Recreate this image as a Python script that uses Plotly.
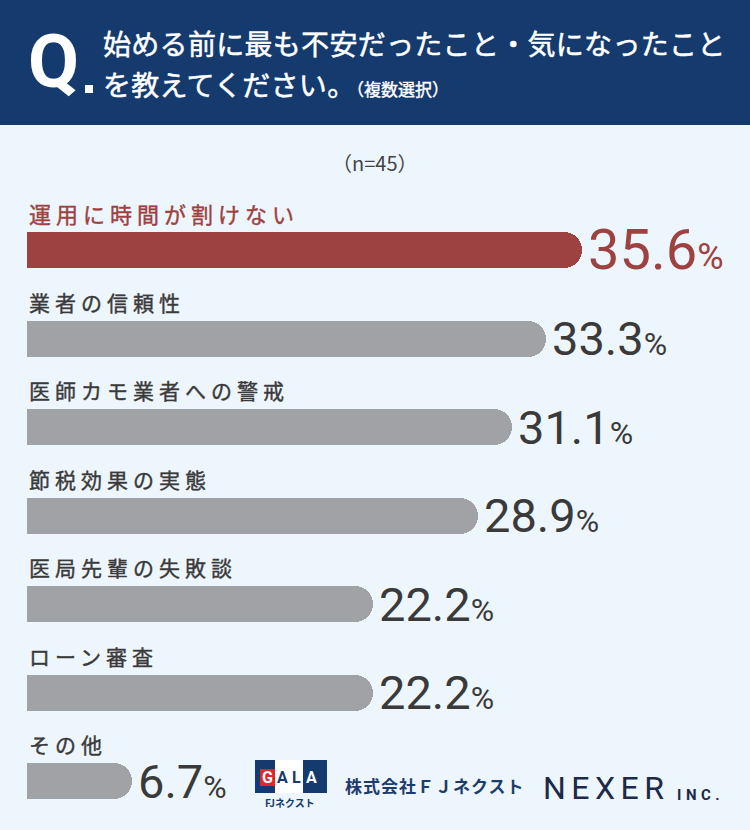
import plotly.graph_objects as go

# ---- data ----
categories = ["運用に時間が割けない", "業者の信頼性", "医師カモ業者への警戒", "節税効果の実態",
              "医局先輩の失敗談", "ローン審査", "その他"]
values = [35.6, 33.3, 31.1, 28.9, 22.2, 22.2, 6.7]
highlight = 0

title_line1 = "始める前に最も不安だったこと・気になったこと"
title_line2 = "を教えてください。"
title_note = "（複数選択）"
sample_note = "（n=45）"

# ---- style ----
W, H = 750, 830
BG = "#eef6fd"
NAVY = "#143a6e"
RED = "#9d4141"
GRAY = "#a1a2a6"
TXT = "#3a3a3a"
JP = "Noto Sans CJK JP"
NUM = "Roboto"

PX_PER_UNIT = 15.6
X0 = 27
ROW = 88.5
FIRST = 250
BAR_H = 36


def px(x):
    return x / W


def py(y):
    return 1 - y / H


positions = list(range(len(categories)))
colors = [RED if i == highlight else GRAY for i in positions]

fig = go.Figure()
fig.add_trace(go.Bar(
    x=values, y=positions, orientation="h",
    marker=dict(color=colors, cornerradius=18, line=dict(width=0)),
    width=BAR_H / ROW, hoverinfo="skip", showlegend=False,
))

annotations = []
for i, (c, v) in enumerate(zip(categories, values)):
    hi = i == highlight
    col = RED if hi else TXT
    size = 22 if hi else 21
    sp = 5
    annotations.append(dict(
        x=0, y=i - 37 / ROW, xref="x", yref="y", xanchor="left", yanchor="middle",
        text=f"<span style='letter-spacing:{sp}px;stroke:{col};stroke-width:0.4px'>{c}</span>", showarrow=False,
        font=dict(family=JP, size=size, color=col),
    ))
    nsize = 56 if hi else 47
    psize = 36 if hi else 32
    annotations.append(dict(
        x=v, y=i, xref="x", yref="y", xanchor="left", yanchor="middle", xshift=4,
        text=f"{v}<span style='font-size:{psize}px'>%</span>",
        showarrow=False,
        font=dict(family=NUM, size=nsize, color=col),
    ))

# header
annotations.append(dict(x=px(26), y=py(62), xref="paper", yref="paper", xanchor="left", yanchor="middle",
                        text="<b>Q</b>", showarrow=False, font=dict(family=NUM, size=74, color="white")))
annotations.append(dict(x=px(101), y=py(43), xref="paper", yref="paper", xanchor="left", yanchor="middle",
                        text=f"<span style='letter-spacing:0.3px;stroke:white;stroke-width:0.5px'>{title_line1}</span>",
                        showarrow=False,
                        font=dict(family=JP, size=28, color="white")))
annotations.append(dict(x=px(101), y=py(84), xref="paper", yref="paper", xanchor="left", yanchor="middle",
                        text=(f"<span style='letter-spacing:0.3px;stroke:white;stroke-width:0.5px'>{title_line2}</span>"
                              f"<span style='font-size:17px;stroke:white;stroke-width:0.4px'>{title_note}</span>"),
                        showarrow=False,
                        font=dict(family=JP, size=28, color="white")))
annotations.append(dict(x=px(375), y=py(163), xref="paper", yref="paper", xanchor="center", yanchor="middle",
                        text=sample_note, showarrow=False, font=dict(family=JP, size=20, color="#444444")))

# footer logos
annotations.append(dict(x=px(343), y=py(785), xref="paper", yref="paper", xanchor="left", yanchor="middle",
                        text="<b><span style='letter-spacing:1px'>株式会社ＦＪネクスト</span></b>", showarrow=False,
                        font=dict(family=JP, size=17, color="#1d3c6b")))
annotations.append(dict(x=px(541), y=py(788), xref="paper", yref="paper", xanchor="left", yanchor="middle",
                        text="<span style='letter-spacing:5.5px'>NEXER</span>", showarrow=False,
                        font=dict(family=NUM, size=32, color="#1b2a48")))
annotations.append(dict(x=px(675), y=py(795), xref="paper", yref="paper", xanchor="left", yanchor="middle",
                        text="<b><span style='letter-spacing:4.5px'>INC.</span></b>", showarrow=False,
                        font=dict(family=NUM, size=15, color="#1b2a48")))
# GALA logo letters
for ch, xx, col in [("G", 267, "white"), ("A", 282, NAVY), ("L", 296, NAVY), ("A", 311, "white")]:
    annotations.append(dict(x=px(xx), y=py(777), xref="paper", yref="paper", xanchor="center", yanchor="middle",
                            text=f"<b>{ch}</b>", showarrow=False, font=dict(family=NUM, size=16, color=col)))
annotations.append(dict(x=px(290), y=py(802), xref="paper", yref="paper", xanchor="center", yanchor="middle",
                        text="<b>FJネクスト</b>", showarrow=False, font=dict(family=JP, size=10, color=NAVY)))

shapes = [
    dict(type="rect", xref="paper", yref="paper", x0=0, x1=1, y0=py(125), y1=1,
         fillcolor=NAVY, line=dict(width=0), layer="below"),
    dict(type="rect", xref="paper", yref="paper", x0=px(85), x1=px(93), y0=py(93), y1=py(85),
         fillcolor="white", line=dict(width=0)),
    dict(type="rect", xref="paper", yref="paper", x0=px(255), x1=px(327), y0=py(793), y1=py(760),
         fillcolor=NAVY, line=dict(width=0), layer="below"),
    dict(type="rect", xref="paper", yref="paper", x0=px(275), x1=px(303), y0=py(793), y1=py(760),
         fillcolor="white", line=dict(width=0), layer="below"),
    dict(type="rect", xref="paper", yref="paper", x0=px(260), x1=px(275), y0=py(786), y1=py(769),
         fillcolor="#e0262a", line=dict(width=0), layer="below"),
]

fig.update_layout(
    width=W, height=H, margin=dict(l=0, r=0, t=0, b=0),
    paper_bgcolor=BG, plot_bgcolor="rgba(0,0,0,0)",
    xaxis=dict(range=[-X0 / PX_PER_UNIT, (W - X0) / PX_PER_UNIT], visible=False, fixedrange=True),
    yaxis=dict(range=[(H - FIRST) / ROW, -FIRST / ROW], visible=False, fixedrange=True),
    annotations=annotations, shapes=shapes, bargap=0,
)

fig.write_html("out.html", config={"displayModeBar": False})
